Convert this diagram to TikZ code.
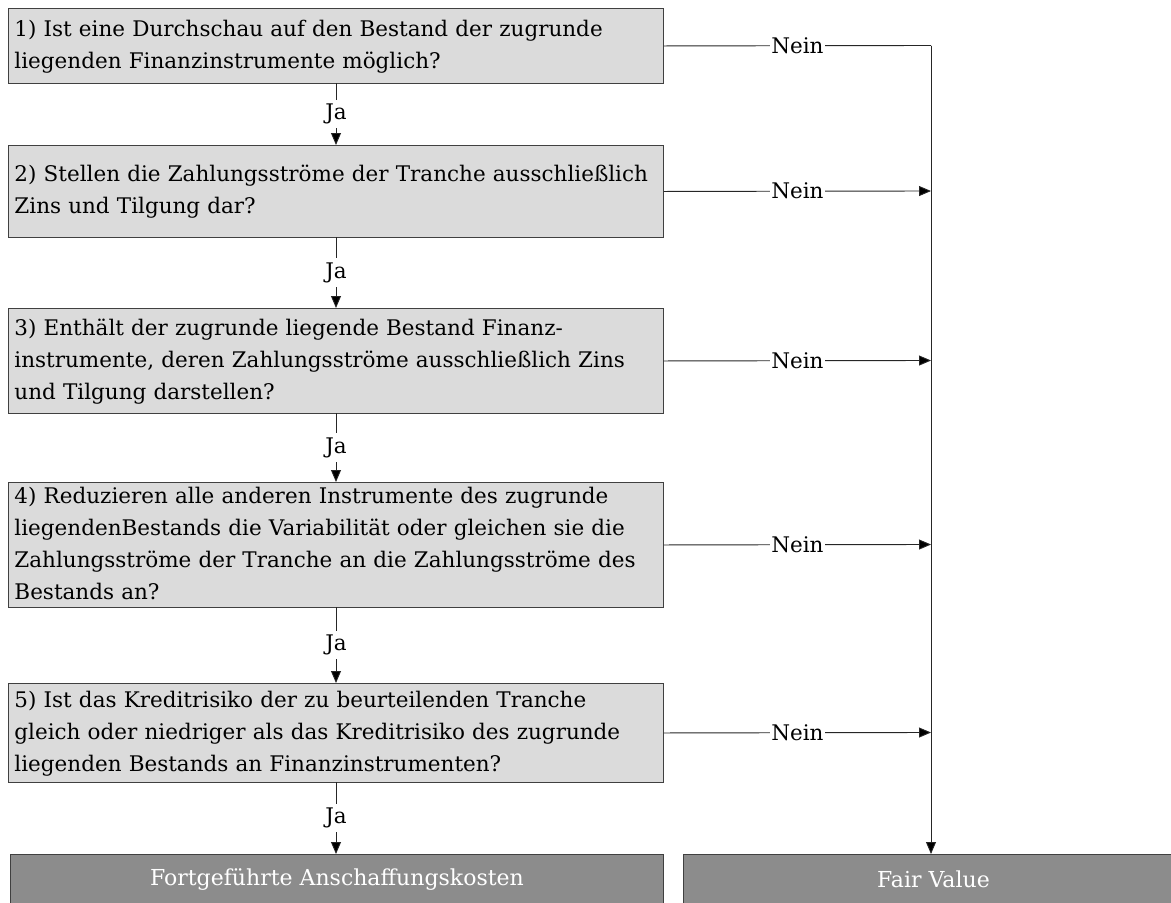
\documentclass[tikz,border=0pt]{standalone}
\usepackage{fontspec}
\setmainfont{DejaVu Serif}
\usetikzlibrary{arrows.meta}
% question text: fixed lines, left aligned, vertically centred in a box of given height
\newcommand{\qtext}[2]{\hspace*{3.5pt}\parbox[c][#1][c]{645pt}{\begin{tabular}{@{}l@{}}#2\end{tabular}}}
\begin{document}
\begin{tikzpicture}[x=1pt,y=1pt,
  qbox/.style={draw=black!75, fill=black!14, line width=0.9pt, anchor=north west,
    minimum width=655, align=left, inner sep=0pt, text width=650,
    font=\fontsize{21.5}{32}\selectfont},
  resbox/.style={draw=black!75, fill=black!45, line width=0.9pt, anchor=north west,
    inner sep=0pt, text=white, font=\fontsize{22}{26}\selectfont},
  link/.style={draw=black!85, line width=0.9pt},
  arr/.style={link, -{Triangle[length=12pt,width=10pt,fill=black]}},
  lbl/.style={fill=white, inner sep=1pt, font=\fontsize{21.5}{26}\selectfont}]
\useasboundingbox (0,0) rectangle (1171,-903);
% question boxes
\node[qbox, minimum height=75] (q1) at (8,-8) {\qtext{75pt}{1) Ist eine Durchschau auf den Bestand der zugrunde\\liegenden Finanzinstrumente möglich?}};
\node[qbox, minimum height=92] (q2) at (8,-145) {\qtext{92pt}{2) Stellen die Zahlungsströme der Tranche ausschließlich\\Zins und Tilgung dar?}};
\node[qbox, minimum height=105] (q3) at (8,-308) {\qtext{105pt}{3) Enthält der zugrunde liegende Bestand Finanz-\\instrumente, deren Zahlungsströme ausschließlich Zins\\und Tilgung darstellen?}};
\node[qbox, minimum height=125] (q4) at (8,-482) {\qtext{125pt}{4) Reduzieren alle anderen Instrumente des zugrunde\\liegendenBestands die Variabilität oder gleichen sie die\\Zahlungsströme der Tranche an die Zahlungsströme des\\Bestands an?}};
\node[qbox, minimum height=99] (q5) at (8,-683) {\qtext{99pt}{5) Ist das Kreditrisiko der zu beurteilenden Tranche\\gleich oder niedriger als das Kreditrisiko des zugrunde\\liegenden Bestands an Finanzinstrumenten?}};
% result boxes
\node[resbox, minimum width=653, minimum height=50] (amk) at (10,-854) {Fortgeführte Anschaffungskosten};
\node[resbox, minimum width=500, minimum height=50] (fv) at (683,-854) {Fair Value};
% collector line on the right
\coordinate (top) at (931,-45.5);
\coordinate (fvin) at (931,-854);
\coordinate (c2) at (931,-191);
\coordinate (c3) at (931,-360.5);
\coordinate (c4) at (931,-544.5);
\coordinate (c5) at (931,-732.5);
\draw[link] (q1.east) -- node[lbl] {Nein} (top);
\draw[arr] (top) -- (fvin);
\draw[arr] (q2.east) -- node[lbl] {Nein} (c2);
\draw[arr] (q3.east) -- node[lbl] {Nein} (c3);
\draw[arr] (q4.east) -- node[lbl] {Nein} (c4);
\draw[arr] (q5.east) -- node[lbl] {Nein} (c5);
% yes branches
\coordinate (j1a) at (336,-83); \coordinate (j1b) at (336,-145);
\coordinate (j2a) at (336,-237); \coordinate (j2b) at (336,-308);
\coordinate (j3a) at (336,-413); \coordinate (j3b) at (336,-482);
\coordinate (j4a) at (336,-607); \coordinate (j4b) at (336,-683);
\coordinate (j5a) at (336,-782); \coordinate (j5b) at (336,-854);
\draw[arr] (j1a) -- node[lbl, inner sep=4pt] {Ja} (j1b);
\draw[arr] (j2a) -- node[lbl, inner sep=4pt] {Ja} (j2b);
\draw[arr] (j3a) -- node[lbl, inner sep=4pt] {Ja} (j3b);
\draw[arr] (j4a) -- node[lbl, inner sep=4pt] {Ja} (j4b);
\draw[arr] (j5a) -- node[lbl, inner sep=4pt] {Ja} (j5b);
\end{tikzpicture}
\end{document}
